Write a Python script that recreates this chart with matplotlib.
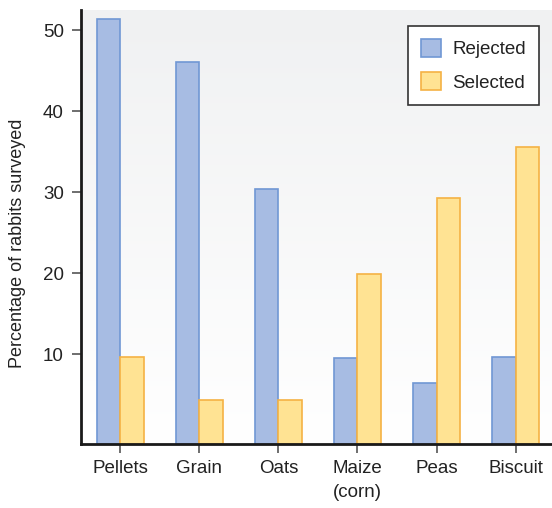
import matplotlib
matplotlib.use("Agg")
import matplotlib.pyplot as plt
import numpy as np
from matplotlib.colors import LinearSegmentedColormap

plt.rcParams['font.family'] = ['Liberation Sans', 'DejaVu Sans']

categories = ["Pellets", "Grain", "Oats", "Maize\n(corn)", "Peas", "Biscuit"]
rejected = [51.3, 46.0, 30.4, 9.5, 6.4, 9.6]
selected = [9.6, 4.3, 4.3, 19.9, 29.3, 35.6]
yticks = [10, 20, 30, 40, 50]

fig = plt.figure(figsize=(5.52, 5.08), dpi=100)
ax = fig.add_axes([0.147, 0.126, 0.853, 0.854])

ymin, ymax = -1.1, 52.45
x = np.arange(len(categories))
w = 0.295

# gradient background
grad = np.linspace(0, 1, 256).reshape(-1, 1)
cmap = LinearSegmentedColormap.from_list("bg", ["#ffffff", "#f0f1f2"])
ax.imshow(grad, aspect='auto', cmap=cmap, extent=[0, 1, 0, 1], origin='lower',
          transform=ax.transAxes, zorder=0)

ax.bar(x - w/2, np.array(rejected) - ymin, bottom=ymin, width=w, color="#a7bce3",
       edgecolor="#7097d4", linewidth=1.2, label="Rejected", zorder=2)
ax.bar(x + w/2, np.array(selected) - ymin, bottom=ymin, width=w, color="#ffe393",
       edgecolor="#f5b244", linewidth=1.2, label="Selected", zorder=2)

ax.set_xlim(-0.494, 5.46)
ax.set_ylim(ymin, ymax)
ax.set_yticks(yticks)
ax.set_xticks(x)
ax.set_xticklabels(categories, linespacing=1.55)
for s in ["top", "right"]:
    ax.spines[s].set_visible(False)
for s in ["left", "bottom"]:
    ax.spines[s].set_linewidth(2)
    ax.spines[s].set_color("#1a1a1a")
ax.tick_params(axis='both', direction='out', length=6.5, width=1.2, color="#555555",
               labelsize=13.5, labelcolor="#222222")
ax.tick_params(axis='y', pad=6)
ax.tick_params(axis='x', pad=5)
ax.set_ylabel("Percentage of rabbits surveyed", fontsize=13, color="#222222")
ax.yaxis.set_label_coords(-0.118, 0.463)

leg = ax.legend(loc="upper right", bbox_to_anchor=(0.972, 0.963), fontsize=13.5,
                fancybox=False, framealpha=1, edgecolor="#333333",
                handlelength=1.05, handleheight=1.05, borderpad=0.7, labelspacing=0.75,
                handletextpad=0.6, borderaxespad=0)
leg.get_frame().set_linewidth(1.2)
for t in leg.get_texts():
    t.set_color("#222222")

fig.savefig("out.png", dpi=100)
